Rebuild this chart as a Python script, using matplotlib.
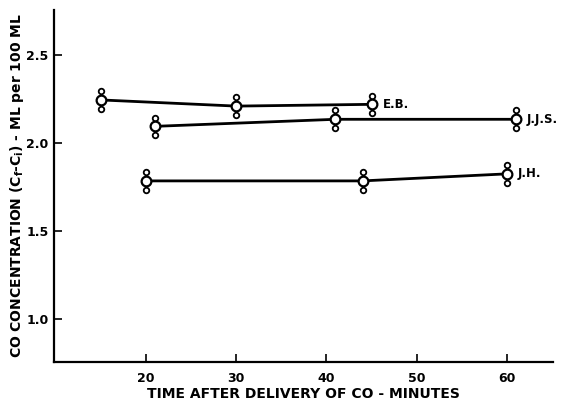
import numpy as np
import matplotlib
matplotlib.use("Agg")
import matplotlib.pyplot as plt

# data (minutes, ml CO per 100 ml)
eb_t = [15, 30, 45]
eb_c = [2.245, 2.21, 2.22]
eb_err = [0.05, 0.05, 0.05]

jjs_t = [21, 41, 61]
jjs_c = [2.095, 2.135, 2.135]
jjs_err = [0.05, 0.05, 0.05]

jh_t = [20, 44, 60]
jh_c = [1.785, 1.785, 1.825]
jh_err = [0.05, 0.05, 0.05]

series = [("E.B.", eb_t, eb_c, eb_err),
          ("J.J.S.", jjs_t, jjs_c, jjs_err),
          ("J.H.", jh_t, jh_c, jh_err)]

xticks = [20, 30, 40, 50, 60]
yticks = [1.0, 1.5, 2.0, 2.5]

plt.rcParams["font.family"] = ["DejaVu Sans"]
plt.rcParams["font.weight"] = "bold"

fig = plt.figure(figsize=(5.65, 4.0), dpi=100)
ax = fig.add_axes([0.0956, 0.095, 0.883, 0.88])

for name, t, c, e in series:
    t = np.array(t); c = np.array(c); e = np.array(e)
    ax.plot(t, c, color="black", lw=2.0, zorder=2)
    ax.vlines(t, c - e, c + e, color="black", lw=1.3, zorder=2)
    ax.plot(t, c + e, "o", ms=4, mfc="white", mec="black", mew=1.3, ls="none", zorder=3)
    ax.plot(t, c - e, "o", ms=4, mfc="white", mec="black", mew=1.3, ls="none", zorder=3)
    ax.plot(t, c, "o", ms=7, mfc="white", mec="black", mew=1.6, ls="none", zorder=4)
    ax.annotate(name, (t[-1], c[-1]), xytext=(8, 0), textcoords="offset points",
                ha="left", va="center", fontsize=8.5, fontweight="bold")

ax.set_xlim(9.8, 65.1)
ax.set_ylim(0.756, 2.756)
ax.set_xticks(xticks)
ax.set_xticklabels([str(v) for v in xticks])
ax.set_yticks(yticks)
ax.set_yticklabels([f"{v:.1f}" for v in yticks])
ax.tick_params(direction="in", length=6, width=1.2, labelsize=9)
ax.tick_params(axis="x", pad=7)
ax.tick_params(axis="y", pad=4)
for lab in ax.get_xticklabels() + ax.get_yticklabels():
    lab.set_fontweight("bold")
ax.spines["top"].set_visible(False)
ax.spines["right"].set_visible(False)
ax.spines["left"].set_linewidth(1.6)
ax.spines["bottom"].set_linewidth(1.6)

ax.set_xlabel("TIME AFTER DELIVERY OF CO - MINUTES", fontsize=10, fontweight="bold", labelpad=2)
ax.set_ylabel(r"CO CONCENTRATION (C$_\mathbf{f}$-C$_\mathbf{i}$) - ML per 100 ML",
              fontsize=10, fontweight="bold")
ax.yaxis.set_label_coords(-0.056, 0.5)

fig.savefig("out.png", dpi=100)
